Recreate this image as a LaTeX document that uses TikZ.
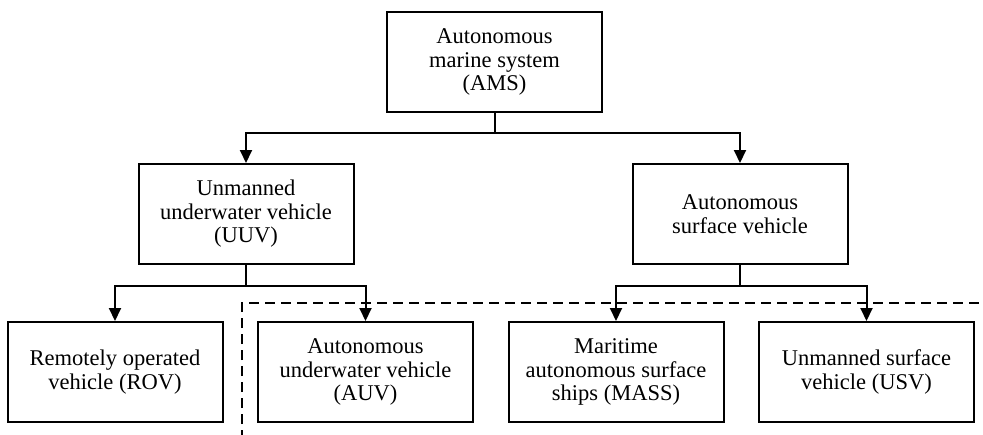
\documentclass[tikz,border=0pt]{standalone}
\usepackage{fontspec}
\setmainfont{Liberation Serif}
\usetikzlibrary{arrows.meta}
\begin{document}
\begin{tikzpicture}[x=1pt,y=-1pt,
  box/.style={draw, line width=2pt, rectangle, minimum width=215pt, minimum height=100pt,
    align=center, inner sep=2pt, font=\fontsize{22.5}{23.5}\selectfont},
  link/.style={line width=2pt, -{Triangle[length=13pt,width=12pt]}},
  plain/.style={line width=2pt},
  region/.style={line width=1.6pt, dash pattern=on 10pt off 6pt}]
\useasboundingbox (0,0) rectangle (983,434);

% top level
\node[box] (ams) at (494.5,62) {Autonomous\\marine system\\(AMS)};

% second level
\node[box] (uuv) at (246,214) {Unmanned\\underwater vehicle\\(UUV)};
\node[box] (asv) at (740,214) {Autonomous\\surface vehicle};

% third level
\node[box] (rov)  at (115,372)   {Remotely operated\\vehicle (ROV)};
\node[box] (auv)  at (365.5,372) {Autonomous\\underwater vehicle\\(AUV)};
\node[box] (mass) at (616,372)   {Maritime\\autonomous surface\\ships (MASS)};
\node[box] (usv)  at (866.5,372) {Unmanned surface\\vehicle (USV)};

% branching points
\coordinate (j1) at (494.5,133);
\coordinate (j2) at (246,285.5);
\coordinate (j3) at (740,285.5);

% dashed region around the autonomous vehicles
\coordinate (dA) at (242,440);
\coordinate (dB) at (242,303);
\coordinate (dC) at (990,303);
\draw[region] (dA) -- (dB) -- (dC);

% connectors
\draw[plain] (ams.south) -- (j1);
\draw[link] (j1) -| (uuv.north);
\draw[link] (j1) -| (asv.north);

\draw[plain] (uuv.south) -- (j2);
\draw[link] (j2) -| (rov.north);
\draw[link] (j2) -| (auv.north);

\draw[plain] (asv.south) -- (j3);
\draw[link] (j3) -| (mass.north);
\draw[link] (j3) -| (usv.north);
\end{tikzpicture}
\end{document}
